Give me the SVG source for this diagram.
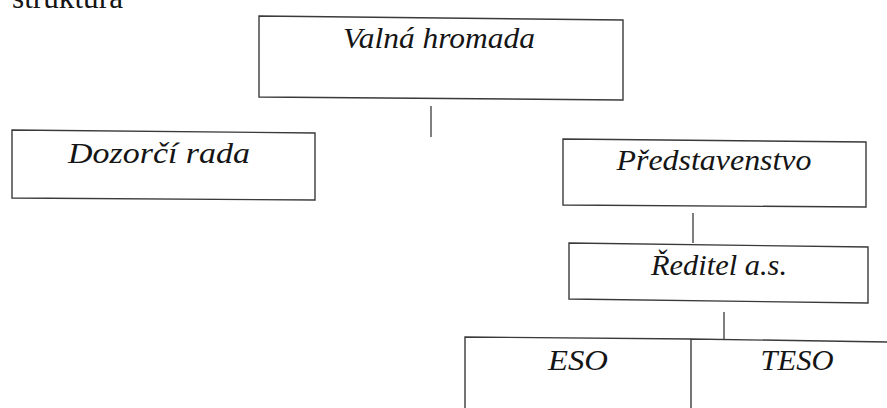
<svg xmlns="http://www.w3.org/2000/svg" width="887" height="408" viewBox="0 0 887 408">
<style>
.box{fill:#fff;stroke:#3a3a3a;stroke-width:1.4}
.lbl{font-family:'Liberation Serif','Times New Roman',Times,Tinos,'Noto Serif','DejaVu Serif',FreeSerif,serif;font-style:italic;font-size:30px;fill:#151515;text-anchor:middle}
.hd{font-family:'Liberation Serif','Times New Roman',Times,Tinos,'Noto Serif','DejaVu Serif',FreeSerif,serif;font-size:31px;fill:#151515}
.con{stroke:#3a3a3a;stroke-width:1.3;fill:none}
</style>
<rect width="887" height="408" fill="#fff"/>
<text class="hd" x="12" y="8" textLength="111" lengthAdjust="spacingAndGlyphs">struktura</text>
<g id="connectors">
<line class="con" x1="431" y1="106" x2="431" y2="137"/>
<line class="con" x1="693" y1="213" x2="693" y2="243"/>
<line class="con" x1="724" y1="312" x2="724" y2="341"/>
</g>
<g id="valna-hromada">
<path class="box" d="M259,16 L623,20 L623,100 L259,97 Z"/>
<text class="lbl" x="439" y="48" textLength="192" lengthAdjust="spacingAndGlyphs">Valná hromada</text>
</g>
<g id="dozorci-rada">
<path class="box" d="M12,130 L315,133 L315,200 L12,198 Z"/>
<text class="lbl" x="159" y="163" textLength="182" lengthAdjust="spacingAndGlyphs">Dozorčí rada</text>
</g>
<g id="predstavenstvo">
<path class="box" d="M563,139 L866,142 L866,207 L563,205 Z"/>
<text class="lbl" x="714" y="170" textLength="195" lengthAdjust="spacingAndGlyphs">Představenstvo</text>
</g>
<g id="reditel">
<path class="box" d="M569,243 L868,247 L868,303 L569,299 Z"/>
<text class="lbl" x="719" y="275" textLength="136" lengthAdjust="spacingAndGlyphs">Ředitel a.s.</text>
</g>
<g id="eso">
<path class="box" d="M691,339 L465,337 L465,410 L691,410"/>
<text class="lbl" x="578" y="370" textLength="60" lengthAdjust="spacingAndGlyphs">ESO</text>
</g>
<g id="teso">
<path class="box" d="M691,410 L691,339 L890,342"/>
<text class="lbl" x="797" y="370" textLength="73" lengthAdjust="spacingAndGlyphs">TESO</text>
</g>
</svg>
